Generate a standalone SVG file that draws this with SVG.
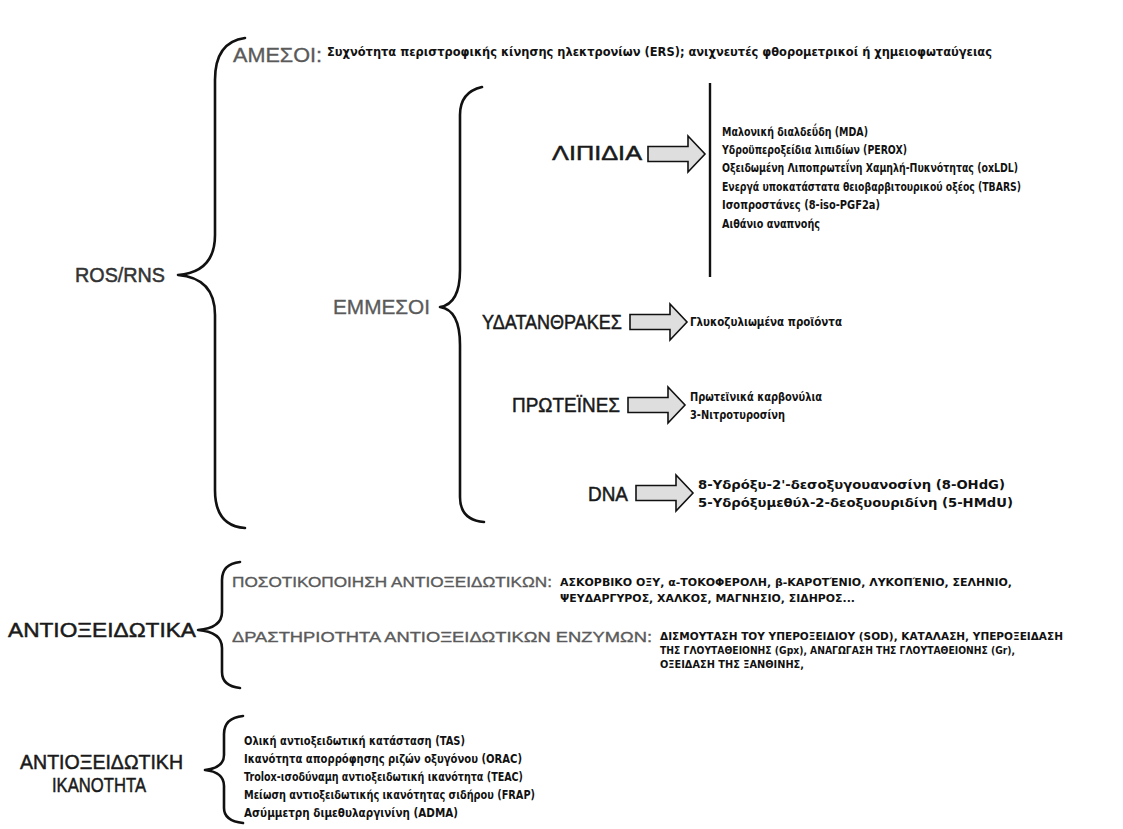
<svg xmlns="http://www.w3.org/2000/svg" width="1123" height="829" viewBox="0 0 1123 829">
<defs>
<style>
.h{font-family:"Liberation Sans","DejaVu Sans",sans-serif;fill:#1a1a1a;stroke:#1a1a1a;stroke-width:0.5;font-size:21px}
.g{font-family:"Liberation Sans","DejaVu Sans",sans-serif;fill:#5a5a5a;stroke:#5a5a5a;stroke-width:0.35}
.i{font-family:"DejaVu Sans","Liberation Sans",sans-serif;fill:#111;font-size:12px;font-weight:bold}
.s{font-family:"DejaVu Sans","Liberation Sans",sans-serif;fill:#111;font-size:10.5px;font-weight:bold}
.br{fill:none;stroke:#111;stroke-width:2.6;stroke-linecap:round;stroke-linejoin:round}
.ln{stroke:#111;stroke-width:2.4}
.ar{fill:#dedede;stroke:#111;stroke-width:1.6;stroke-linejoin:miter}
</style>
<path id="arrow" class="ar" d="M0,-7.5 H40 V-18 L57,0 L40,18 V7.5 H0 Z"/>
</defs>
<rect width="1123" height="829" fill="#fff"/>

<g id="connectors">
<path class="br" d="M245,38 Q215,42 215,80 V235 Q215,272 178,275 Q215,278 215,315 V490 Q215,526 245,528"/>
<path class="br" d="M482,87 Q460,92 460,115 V270 Q460,304 440,307 Q460,310 460,345 V497 Q460,520 484,522"/>
<path class="br" d="M240,562 Q222,564 222,580 V612 Q222,628 198,630 Q222,632 222,648 V672 Q222,686 240,688"/>
<path class="br" d="M243,716 Q224,718 224,734 V755 Q224,768 205,770 Q224,772 224,786 V808 Q224,821 243,823"/>
<line class="ln" x1="710" y1="83" x2="710" y2="277"/>
<use href="#arrow" x="648" y="154"/>
<use href="#arrow" x="630" y="322"/>
<use href="#arrow" x="628" y="405"/>
<use href="#arrow" x="636" y="493"/>
</g>

<g id="ros">
<text class="h" x="75" y="282" textLength="90" lengthAdjust="spacingAndGlyphs" style="fill:#333;stroke:#333">ROS/RNS</text>
</g>

<g id="amesoi">
<text class="g" x="233" y="62" font-size="21" textLength="89" lengthAdjust="spacingAndGlyphs">ΑΜΕΣΟΙ:</text>
<text class="i" x="327" y="56" textLength="665" lengthAdjust="spacingAndGlyphs">Συχνότητα περιστροφικής κίνησης ηλεκτρονίων (ERS); ανιχνευτές φθορομετρικοί ή χημειοφωταύγειας</text>
</g>

<g id="emmesoi">
<text class="g" x="333" y="314" font-size="21" textLength="97" lengthAdjust="spacingAndGlyphs">ΕΜΜΕΣΟΙ</text>
</g>

<g id="lipidia">
<text class="h" x="552" y="160" textLength="90" lengthAdjust="spacingAndGlyphs">ΛΙΠΙΔΙΑ</text>
<text class="i" x="722" y="136" textLength="146" lengthAdjust="spacingAndGlyphs">Μαλονική διαλδεΰδη (MDA)</text>
<text class="i" x="722" y="154" textLength="185" lengthAdjust="spacingAndGlyphs">Υδροϋπεροξείδια λιπιδίων (PEROX)</text>
<text class="i" x="722" y="172" textLength="296" lengthAdjust="spacingAndGlyphs">Οξειδωμένη Λιποπρωτεΐνη Χαμηλή-Πυκνότητας (oxLDL)</text>
<text class="i" x="722" y="191" textLength="299" lengthAdjust="spacingAndGlyphs">Ενεργά υποκατάστατα θειοβαρβιτουρικού οξέος (TBARS)</text>
<text class="i" x="722" y="209" textLength="158" lengthAdjust="spacingAndGlyphs">Ισοπροστάνες (8-iso-PGF2a)</text>
<text class="i" x="722" y="228" textLength="98" lengthAdjust="spacingAndGlyphs">Αιθάνιο αναπνοής</text>
</g>

<g id="ydatanthrakes">
<text class="h" x="482" y="329" textLength="140" lengthAdjust="spacingAndGlyphs">ΥΔΑΤΑΝΘΡΑΚΕΣ</text>
<text class="i" x="690" y="326" textLength="152" lengthAdjust="spacingAndGlyphs">Γλυκοζυλιωμένα προϊόντα</text>
</g>

<g id="proteines">
<text class="h" x="512" y="412" textLength="108" lengthAdjust="spacingAndGlyphs">ΠΡΩΤΕΪΝΕΣ</text>
<text class="i" x="690" y="401" textLength="132" lengthAdjust="spacingAndGlyphs">Πρωτεϊνικά καρβονύλια</text>
<text class="i" x="690" y="419" textLength="95" lengthAdjust="spacingAndGlyphs">3-Νιτροτυροσίνη</text>
</g>

<g id="dna">
<text class="h" x="588" y="501" textLength="40" lengthAdjust="spacingAndGlyphs">DNA</text>
<text class="i" x="698" y="489" textLength="307" lengthAdjust="spacingAndGlyphs">8-Υδρόξυ-2'-δεσοξυγουανοσίνη (8-OHdG)</text>
<text class="i" x="698" y="507" textLength="315" lengthAdjust="spacingAndGlyphs">5-Υδρόξυμεθύλ-2-δεοξυουριδίνη (5-HMdU)</text>
</g>

<g id="antioxeidotika">
<text class="h" x="8" y="637" textLength="188" lengthAdjust="spacingAndGlyphs">ΑΝΤΙΟΞΕΙΔΩΤΙΚΑ</text>
</g>

<g id="posotikopoiisi">
<text class="g" x="232" y="587" font-size="15" textLength="320" lengthAdjust="spacingAndGlyphs">ΠΟΣΟΤΙΚΟΠΟΙΗΣΗ ΑΝΤΙΟΞΕΙΔΩΤΙΚΩΝ:</text>
<text class="s" x="560" y="586" textLength="452" lengthAdjust="spacingAndGlyphs">ΑΣΚΟΡΒΙΚΟ ΟΞΥ, α-ΤΟΚΟΦΕΡΟΛΗ, β-ΚΑΡΟΤΈΝΙΟ, ΛΥΚΟΠΈΝΙΟ, ΣΕΛΗΝΙΟ,</text>
<text class="s" x="560" y="602" textLength="295" lengthAdjust="spacingAndGlyphs">ΨΕΥΔΑΡΓΥΡΟΣ, ΧΑΛΚΟΣ, ΜΑΓΝΗΣΙΟ, ΣΙΔΗΡΟΣ...</text>
</g>

<g id="drastiriotita">
<text class="g" x="232" y="642" font-size="15" textLength="420" lengthAdjust="spacingAndGlyphs">ΔΡΑΣΤΗΡΙΟΤΗΤΑ ΑΝΤΙΟΞΕΙΔΩΤΙΚΩΝ ΕΝΖΥΜΩΝ:</text>
<text class="s" x="660" y="640" textLength="403" lengthAdjust="spacingAndGlyphs">ΔΙΣΜΟΥΤΑΣΗ ΤΟΥ ΥΠΕΡΟΞΕΙΔΙΟΥ (SOD), ΚΑΤΑΛΑΣΗ, ΥΠΕΡΟΞΕΙΔΑΣΗ</text>
<text class="s" x="660" y="654" textLength="355" lengthAdjust="spacingAndGlyphs">ΤΗΣ ΓΛΟΥΤΑΘΕΙΟΝΗΣ (Gpx), ΑΝΑΓΩΓΑΣΗ ΤΗΣ ΓΛΟΥΤΑΘΕΙΟΝΗΣ (Gr),</text>
<text class="s" x="660" y="668" textLength="144" lengthAdjust="spacingAndGlyphs">ΟΞΕΙΔΑΣΗ ΤΗΣ ΞΑΝΘΙΝΗΣ,</text>
</g>

<g id="antioxeidotiki-ikanotita">
<text class="h" x="20" y="769" textLength="163" lengthAdjust="spacingAndGlyphs">ΑΝΤΙΟΞΕΙΔΩΤΙΚΗ</text>
<text class="h" x="52" y="792" textLength="94" lengthAdjust="spacingAndGlyphs">ΙΚΑΝΟΤΗΤΑ</text>
<text class="i" x="244" y="745" textLength="221" lengthAdjust="spacingAndGlyphs">Ολική αντιοξειδωτική κατάσταση (TAS)</text>
<text class="i" x="244" y="763" textLength="278" lengthAdjust="spacingAndGlyphs">Ικανότητα απορρόφησης ριζών οξυγόνου (ORAC)</text>
<text class="i" x="244" y="781" textLength="279" lengthAdjust="spacingAndGlyphs">Trolox-ισοδύναμη αντιοξειδωτική ικανότητα (TEAC)</text>
<text class="i" x="244" y="799" textLength="291" lengthAdjust="spacingAndGlyphs">Μείωση αντιοξειδωτικής ικανότητας σιδήρου (FRAP)</text>
<text class="i" x="244" y="817" textLength="214" lengthAdjust="spacingAndGlyphs">Ασύμμετρη διμεθυλαργινίνη (ADMA)</text>
</g>
</svg>
